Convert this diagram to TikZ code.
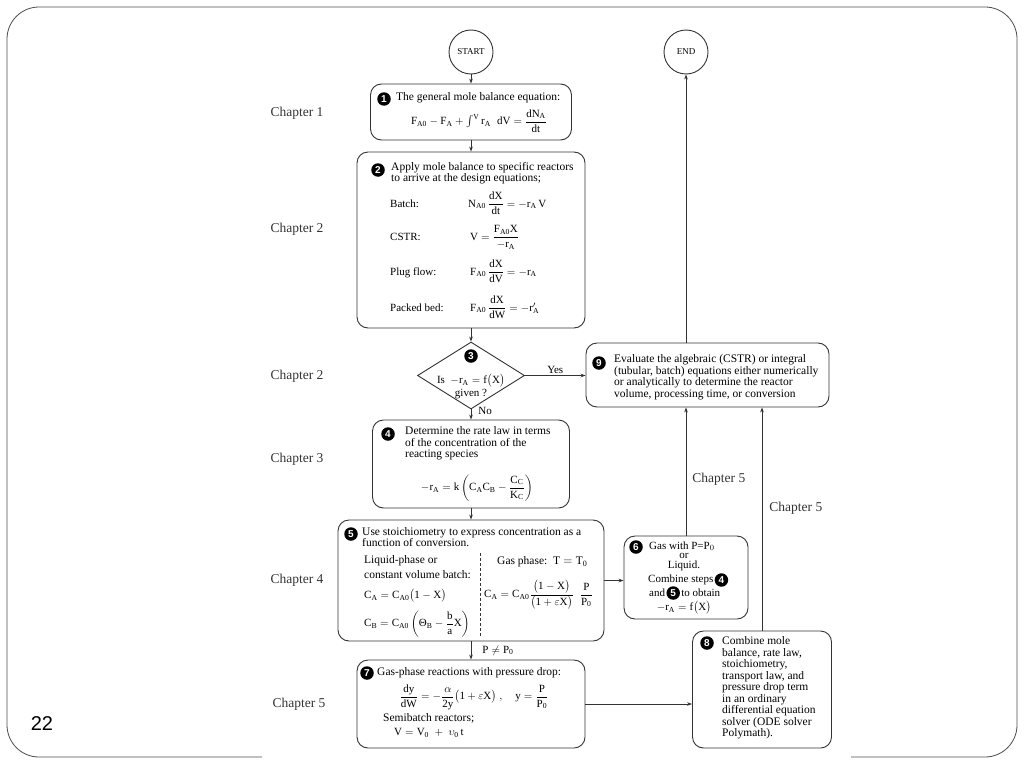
\documentclass[tikz,border=0pt]{standalone}
\usepackage{amsmath}
\usepackage{fontspec}
\setmainfont{Liberation Serif}
\newfontfamily\sansf{Liberation Sans}
\usetikzlibrary{shapes.geometric,arrows.meta}
\tikzset{
  ln/.style={draw=black!80, line width=0.9pt},
  box/.style={ln, rounded corners=11pt, inner sep=0, fill=white},
  term/.style={ln, circle, minimum size=44pt, inner sep=0, font=\fontsize{9}{9}\selectfont},
  num/.style={circle, fill=black, text=white, inner sep=0, minimum size=13.5pt, font=\sansf\bfseries\fontsize{10}{10}\selectfont},
  txt/.style={inner sep=0, anchor=west, align=left, font=\fontsize{11.5}{11.5}\selectfont},
  ctr/.style={inner sep=0, align=center, font=\fontsize{11}{11}\selectfont},
  lbl/.style={inner sep=0, anchor=base west, font=\fontsize{11}{11}\selectfont},
  eq/.style={inner sep=0, font=\fontsize{11}{11}\selectfont},
  chap/.style={inner sep=0, text=black!80, font=\fontsize{13.5}{13.5}\selectfont},
  conn/.style={draw=black!80, line width=0.8pt, -{Stealth[length=5pt,width=3.6pt]}},
}
\begin{document}
\begin{tikzpicture}[x=1pt,y=-1pt]
\useasboundingbox (0,0) rectangle (1024,768);
% slide frame
\draw[draw=black!70, line width=0.8pt, rounded corners=32pt] (262,757) -- (7,757) -- (7,7) -- (1017,7) -- (1017,757) -- (851,757);
\node[inner sep=0, font=\sansf\fontsize{20}{20}\selectfont] (pg) at (42,724) {22};

% chapter labels
\node[chap] (c1) at (297,113) {Chapter 1};
\node[chap] (c2) at (297,229) {Chapter 2};
\node[chap] (c2b) at (297,376) {Chapter 2};
\node[chap] (c3) at (297,459) {Chapter 3};
\node[chap] (c4) at (297,580) {Chapter 4};
\node[chap] (c5) at (299,704) {Chapter 5};

% terminals
\node[term] (start) at (471,52) {START};
\node[term] (end) at (686,52) {END};

% box 1
\node[box, minimum width=201pt, minimum height=56pt] (b1) at (471,112) {};
\node[num] (n1) at (384,99) {1};
\node[txt] (t1) at (396,98) {The general mole balance equation:};
\node[eq] (e1) at (479,121) {$\mathrm{F_{A0}-F_A+\int^{V} r_A\;\;dV=\dfrac{dN_A}{dt}}$};

% box 2
\node[box, minimum width=228pt, minimum height=176pt] (b2) at (471,240) {};
\node[num] (n2) at (378,170) {2};
\node[txt] (t2) at (391,173) {Apply mole balance to specific reactors\\to arrive at the design equations;};
\node[lbl] (l2a) at (390,207) {Batch:};
\node[lbl] (e2a) at (468,207) {$\mathrm{N_{A0}\,\dfrac{dX}{dt}=-r_A\,V}$};
\node[lbl] (l2b) at (390,240) {CSTR:};
\node[lbl] (e2b) at (470,240) {$\mathrm{V=\dfrac{F_{A0}X}{-r_A}}$};
\node[lbl] (l2c) at (390,275) {Plug flow:};
\node[lbl] (e2c) at (470,275) {$\mathrm{F_{A0}\,\dfrac{dX}{dV}=-r_A}$};
\node[lbl] (l2d) at (390,311) {Packed bed:};
\node[lbl] (e2d) at (470,311) {$\mathrm{F_{A0}\,\dfrac{dX}{dW}=-r'_A}$};

% decision
\node[ln, diamond, minimum width=107pt, minimum height=67pt, inner sep=0, fill=white] (dia) at (471,375.5) {};
\node[num] (n3) at (471,356) {3};
\node[ctr] (t3a) at (471,381) {Is \ $\mathrm{-r_A=f\bigl(X\bigr)}$};
\node[ctr] (t3b) at (471,394) {given ?};

% box 9
\node[box, minimum width=243pt, minimum height=64pt] (b9) at (707.5,375) {};
\node[num] (n9) at (599,363) {9};
\node[txt] (t9) at (614,377) {Evaluate the algebraic (CSTR) or integral\\(tubular, batch) equations either numerically\\or analytically to determine the reactor\\volume, processing time, or conversion};

% box 4
\node[box, minimum width=197pt, minimum height=88pt] (b4) at (471,464) {};
\node[num] (n4) at (388,434) {4};
\node[txt] (t4) at (405,443.5) {Determine the rate law in terms\\of the concentration of the\\reacting species};
\node[eq] (e4) at (477,488) {$\mathrm{-r_A=k\left(C_A C_B-\dfrac{C_C}{K_C}\right)}$};

% box 5
\node[box, minimum width=266pt, minimum height=121pt] (b5) at (471,580.5) {};
\node[num] (n5) at (351,534) {5};
\node[txt] (t5) at (362,537) {Use stoichiometry to express concentration as a\\function of conversion.};
\node[txt] (t5a) at (364,561) {Liquid-phase or};
\node[txt] (t5b) at (364,575) {constant volume batch:};
\node[eq, anchor=west] (e5a) at (364,596) {$\mathrm{C_A=C_{A0}\bigl(1-X\bigr)}$};
\node[eq, anchor=west] (e5b) at (364,624) {$\mathrm{C_B=C_{A0}\left(\text{Θ}_B-\dfrac{b}{a}X\right)}$};
\draw[ln, line width=0.7pt, dash pattern=on 3pt off 2pt] (480,553) -- (480,636);
\node[txt] (t5c) at (497,562) {Gas phase:\ \ $\mathrm{T=T_0}$};
\node[eq, anchor=west] (e5c) at (484,595) {$\mathrm{C_A=C_{A0}\dfrac{\bigl(1-X\bigr)}{\bigl(1+\varepsilon X\bigr)}\;\;\dfrac{P}{P_0}}$};

% box 6
\node[box, minimum width=124pt, minimum height=83pt] (b6) at (686,577.5) {};
\node[num] (n6) at (636,547) {6};
\node[txt, font=\fontsize{11}{11}\selectfont] (t6a) at (649,546) {Gas with P=P$_0$};
\node[ctr] (t6b) at (684,555.5) {or};
\node[ctr] (t6c) at (684,566) {Liquid.};
\node[txt, font=\fontsize{11}{11}\selectfont] (t6d) at (648,580) {Combine steps};
\node[num, anchor=west] (n6d) at ([xshift=1pt]t6d.east) {4};
\node[txt, font=\fontsize{11}{11}\selectfont] (t6e) at (649,593) {and};
\node[num, anchor=west] (n6e) at ([xshift=1pt]t6e.east) {5};
\node[txt, font=\fontsize{11}{11}\selectfont] (t6f) at ([xshift=1pt]n6e.east) {to obtain};
\node[eq] (e6) at (684,608) {$\mathrm{-r_A=f\bigl(X\bigr)}$};

% box 7
\node[box, minimum width=228pt, minimum height=88pt] (b7) at (471,704) {};
\node[num] (n7) at (367,673) {7};
\node[txt] (t7) at (377,673) {Gas-phase reactions with pressure drop:};
\node[eq] (e7) at (474,697) {$\mathrm{\dfrac{dy}{dW}=-\dfrac{\alpha}{2y}\bigl(1+\varepsilon X\bigr)\;,\quad y=\dfrac{P}{P_0}}$};
\node[txt] (t7b) at (383,718) {Semibatch reactors;};
\node[eq, anchor=west] (e7b) at (394,733) {$\mathrm{V=V_0\;+\;\upsilon_0\,t}$};

% box 8
\node[box, minimum width=139pt, minimum height=117pt] (b8) at (762,689.5) {};
\node[num] (n8) at (707,643) {8};
\node[txt] (t8) at (722,688) {Combine mole\\balance, rate law,\\stoichiometry,\\transport law, and\\pressure drop term\\in an ordinary\\differential equation\\solver (ODE solver\\Polymath).};

% connectors
\draw[conn] (start.south) -- (b1.north);
\draw[conn] (b1.south) -- (b2.north);
\draw[conn] (b2.south) -- (dia.north);
\draw[conn] (dia.east) -- node[midway, above, yshift=1pt, inner sep=0, font=\fontsize{11}{11}\selectfont] {Yes} (dia.east -| b9.west);
\draw[conn] (dia.south) -- node[pos=0.1, anchor=west, xshift=7pt, inner sep=0, font=\fontsize{11}{11}\selectfont] {No} (b4.north);
\draw[conn] (b4.south) -- (b5.north);
\draw[conn] (b5.south) -- node[midway, anchor=west, xshift=11pt, inner sep=0, font=\fontsize{11}{11}\selectfont] {$\mathrm{P\neq P_0}$} (b7.north);
\draw[conn] (b5.east) -- (b5.east -| b6.west);
\draw[conn] (b6.north) -- node[pos=0.44, anchor=west, xshift=6pt, chap] {Chapter 5} (b6.north |- b9.south);
\draw[conn] (b9.north -| end.south) -- (end.south);
\draw[conn] (b8.north) -- node[pos=0.55, anchor=west, xshift=7pt, chap] {Chapter 5} (b8.north |- b9.south);
\draw[conn] (b7.east) -- (b7.east -| b8.west);
\end{tikzpicture}
\end{document}
